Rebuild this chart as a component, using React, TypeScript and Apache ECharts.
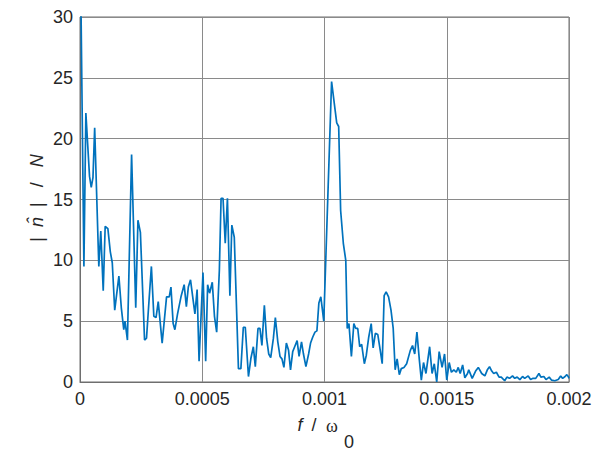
import React, { useEffect, useRef } from "react";
import * as echarts from "echarts";

// frequency of each sample, in units of 1e-6 (f / omega_0)
const freqE6 = [
  0, 16, 24, 39, 46, 53, 60, 68, 77, 85,
  95, 103, 114, 124, 132, 142, 159, 169, 179, 184,
  194, 211, 228, 237, 247, 264, 272, 283, 292, 302,
  311, 320, 336, 354, 365, 372, 381, 388, 399, 413,
  426, 435, 443, 452, 470, 479, 487, 503, 514, 522,
  530, 541, 550, 559, 570, 577, 585, 594, 603, 613,
  621, 631, 648, 658, 668, 676, 689, 699, 709, 717,
  728, 736, 744, 754, 763, 772, 780, 791, 799, 809,
  818, 826, 834, 844, 853, 861, 870, 878, 888, 896,
  906, 914, 924, 935, 943, 952, 961, 969, 977, 985,
  997, 1029, 1040, 1050, 1058, 1066, 1077, 1087, 1093, 1100,
  1110, 1120, 1128, 1136, 1144, 1152, 1163, 1171, 1181, 1191,
  1199, 1208, 1218, 1228, 1236, 1244, 1252, 1262, 1272, 1281,
  1289, 1297, 1306, 1314, 1325, 1336, 1351, 1360, 1369, 1378,
  1388, 1396, 1405, 1415, 1430, 1440, 1449, 1459, 1469, 1481,
  1491, 1500, 1510, 1519, 1529, 1539, 1547, 1555, 1565, 1574,
  1585, 1590, 1604, 1618, 1629, 1643, 1656, 1666, 1675, 1684,
  1692, 1703, 1714, 1723, 1737, 1746, 1757, 1769, 1778, 1788,
  1799, 1810, 1819, 1833, 1843, 1853, 1864, 1877, 1885, 1897,
  1906, 1919, 1929, 1942, 1956, 1966, 1974, 1984, 1991, 1997,
  2000,
];

// |n^| / N
const amp = [
  38, 9.5, 22.1, 16.9, 16.0, 16.8, 20.9, 15.5, 9.5, 12.4,
  7.5, 12.8, 12.6, 10.7, 9.8, 5.9, 8.7, 6.1, 4.3, 5.0,
  3.45, 18.7, 6.1, 13.3, 12.3, 3.45, 3.6, 6.9, 9.5, 5.4,
  5.3, 6.6, 3.2, 7.0, 7.0, 7.8, 4.8, 4.3, 5.6, 7.0,
  8.0, 6.2, 7.8, 8.4, 5.6, 7.6, 1.7, 9.0, 1.7, 8.0,
  7.3, 8.2, 5.4, 4.1, 9.2, 15.1, 15.1, 11.4, 15.1, 7.1,
  12.9, 11.9, 1.1, 1.1, 4.5, 4.5, 0.45, 1.95, 2.9, 1.26,
  4.4, 4.4, 3.0, 6.3, 3.6, 2.3, 2.0, 3.6, 5.3, 3.3,
  2.1, 1.9, 1.2, 3.2, 2.6, 1.0, 2.5, 2.9, 3.4, 2.1,
  3.3, 2.3, 1.26, 2.3, 3.2, 3.7, 4.1, 4.2, 6.5, 7.0,
  5.0, 24.7, 22.9, 21.3, 21.0, 14.1, 11.4, 10.0, 4.4, 4.8,
  2.1, 4.8, 4.4, 4.4, 2.9, 3.1, 1.5, 2.2, 3.7, 4.8,
  2.8, 4.0, 3.9, 2.6, 1.5, 7.1, 7.4, 7.0, 5.9, 4.4,
  1.0, 1.9, 0.6, 1.1, 1.2, 1.5, 2.6, 3.0, 2.3, 4.1,
  1.8, 0.16, 1.6, 0.7, 2.9, 0.7, 1.5, 0.0, 2.5, 1.2,
  2.3, 0.16, 1.6, 0.8, 1.0, 0.8, 1.2, 0.7, 1.4, 0.35,
  0.7, 1.0, 0.3, 0.9, 1.2, 0.7, 0.5, 1.0, 1.26, 0.9,
  0.7, 0.8, 0.4, 0.4, 0.1, 0.4, 0.3, 0.5, 0.3, 0.4,
  0.2, 0.45, 0.3, 0.5, 0.2, 0.3, 0.3, 0.7, 0.4, 0.45,
  0.2, 0.4, 0.15, 0.1, 0.2, 0.5, 0.3, 0.45, 0.6, 0.45,
  0.3,
];

const xTickLabels = ["0", "0.0005", "0.001", "0.0015", "0.002"];
const yTickLabels = ["0", "5", "10", "15", "20", "25", "30"];

const FONT = "'Liberation Sans', Arial, Helvetica, sans-serif";
const TEXT = "#262626";

export default function App() {
  const ref = useRef<HTMLDivElement>(null);

  useEffect(() => {
    if (!ref.current) return;
    const chart = echarts.init(ref.current, undefined, { renderer: "svg" });
    const data = freqE6.map((f, i) => [f * 1e-6, amp[i]]);

    chart.setOption({
      animation: false,
      backgroundColor: "#ffffff",
      grid: {
        left: 80,
        right: 29,
        top: 17,
        bottom: 82,
        show: true,
        borderColor: "#6e6e6e",
        borderWidth: 1,
        containLabel: false,
        outerBoundsMode: "none",
      },
      xAxis: {
        type: "value",
        min: 0,
        max: 0.002,
        interval: 0.0005,
        axisLine: { show: true, lineStyle: { color: "#6e6e6e", width: 1 } },
        axisTick: { show: false },
        splitLine: { show: true, lineStyle: { color: "#8a8a8a", width: 1 } },
        axisLabel: {
          color: TEXT,
          fontSize: 18,
          fontFamily: FONT,
          margin: 8,
          formatter: (v: number) => xTickLabels[Math.round(v / 0.0005)] ?? "",
        },
      },
      yAxis: {
        type: "value",
        min: 0,
        max: 30,
        interval: 5,
        axisLine: { show: true, lineStyle: { color: "#6e6e6e", width: 1 } },
        axisTick: { show: false },
        splitLine: { show: true, lineStyle: { color: "#8a8a8a", width: 1 } },
        axisLabel: {
          color: TEXT,
          fontSize: 18,
          fontFamily: FONT,
          margin: 7,
          formatter: (v: number) => yTickLabels[Math.round(v / 5)] ?? "",
        },
      },
      series: [
        {
          type: "line",
          data,
          showSymbol: false,
          symbol: "none",
          clip: true,
          lineStyle: { color: "#0072BD", width: 1.7 },
        },
      ],
      graphic: [
        {
          type: "text",
          x: 37,
          y: 198,
          rotation: Math.PI / 2,
          style: {
            text: "{a||  }{i|n\u0302}{a|  |   /   }{i|N}",
            align: "center",
            verticalAlign: "middle",
            fill: TEXT,
            font: `18px ${FONT}`,
            rich: {
              a: { fontSize: 18, fontFamily: FONT, fill: TEXT, color: TEXT },
              i: { fontSize: 18, fontFamily: FONT, fontStyle: "italic", fill: TEXT, color: TEXT },
            },
          },
        },
        {
          type: "text",
          x: 300,
          y: 425,
          style: { text: "f", align: "center", verticalAlign: "middle", fill: TEXT, font: `italic 18px ${FONT}` },
        },
        {
          type: "text",
          x: 314,
          y: 425,
          style: { text: "/", align: "center", verticalAlign: "middle", fill: TEXT, font: `18px ${FONT}` },
        },
        {
          type: "text",
          x: 332,
          y: 426,
          style: { text: "\u03c9", align: "center", verticalAlign: "middle", fill: TEXT, font: `18px 'Liberation Serif', 'DejaVu Serif', serif` },
        },
        {
          type: "text",
          x: 349,
          y: 442,
          style: { text: "0", align: "center", verticalAlign: "middle", fill: TEXT, font: `18px ${FONT}` },
        },
      ],
    });

    return () => chart.dispose();
  }, []);

  return (
    <div
      ref={ref}
      style={{ position: "fixed", left: 0, top: 0, width: 598, height: 464, background: "#fff" }}
    />
  );
}
